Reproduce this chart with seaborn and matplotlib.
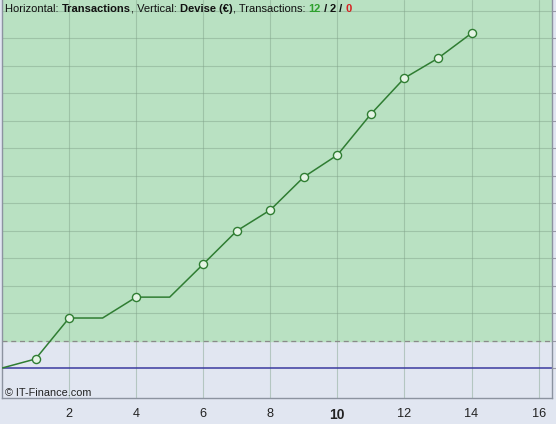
import matplotlib
matplotlib.use('Agg')
import matplotlib.pyplot as plt
import seaborn as sns
import pandas as pd

# equity curve (one point per transaction)
trades = list(range(15))
equity = [0, 33, 182, 182, 258, 258, 378, 499, 575, 695, 775, 924, 1055, 1127, 1218]
x_major = [2, 4, 6, 8, 10, 12, 14, 16]
x_minor = [1, 3, 5, 7, 9, 11, 13, 15]
grid_levels = [200, 300, 400, 500, 600, 700, 800, 900, 1000, 1100, 1200, 1300]
zone_level = 100
n_win, n_even, n_loss = 12, 2, 0

df = pd.DataFrame({'trade': trades, 'equity': equity})
df['step'] = df['equity'].diff().fillna(0)
marks = df[df['step'] != 0]

sns.set_style('white')
plt.rcParams['font.family'] = ['Liberation Sans', 'DejaVu Sans']

fig = plt.figure(figsize=(5.56, 4.24), dpi=100)
fig.patch.set_facecolor('#e1e6f1')
ax = fig.add_axes([2 / 556, 26 / 424, 550 / 556, 398 / 424])
ax.set_facecolor('#e1e6f1')

ax.set_xlim(0, 16.4)
ax.set_ylim(-109, 1339)

# profit zone
ax.axhspan(zone_level, 1339, color='#b9e1c2', zorder=0)

# grid
for g in grid_levels:
    ax.axhline(g, color='#7f9f88', lw=0.8, alpha=0.45, zorder=1)
for xv in x_major:
    ax.axvline(xv, color='#7f9f88', lw=0.8, alpha=0.45, zorder=1)
ax.axhline(zone_level, color='#8a8a8a', lw=0.9, ls=(0, (4, 3)), zorder=2)
ax.axhline(0, color='#3a3aa0', lw=1.1, zorder=2)

# equity line + markers
sns.lineplot(data=df, x='trade', y='equity', color='#2f7d32', lw=1.1, ax=ax, zorder=3)
sns.scatterplot(data=marks, x='trade', y='equity', ax=ax, s=34, color='#e4f4e4',
                edgecolor='#2f7d32', linewidth=1.0, zorder=4)

ax.set_xlabel('')
ax.set_ylabel('')

ax.set_xticks(x_major)
ax.set_xticklabels([str(v) for v in x_major], fontsize=9.2, color='#222222')
ax.set_xticks(x_minor, minor=True)
ax.tick_params(axis='x', which='both', direction='out', length=3, color='#9a9aa8', pad=4)
for lab in ax.get_xticklabels():
    if lab.get_text() == '10':
        lab.set_fontweight('bold')
        lab.set_fontsize(10)

ax.yaxis.tick_right()
ax.set_yticks(grid_levels + [zone_level, 0])
ax.set_yticklabels([])
ax.tick_params(axis='y', direction='out', length=4, color='#9a9aa8')

for side in ['left', 'bottom', 'right']:
    ax.spines[side].set_visible(True)
    ax.spines[side].set_color('#8c93a0')
    ax.spines[side].set_linewidth(1.0)
ax.spines['top'].set_visible(False)

# header text with mixed styles
fs = 8.0
parts = [
    ('Horizontal: ', 'normal', '#111111'),
    ('Transactions', 'bold', '#111111'),
    (', Vertical: ', 'normal', '#111111'),
    ('Devise (€)', 'bold', '#111111'),
    (', Transactions: ', 'normal', '#111111'),
    (str(n_win), 'bold', '#2ea02e'),
    (' / ', 'bold', '#111111'),
    (str(n_even), 'bold', '#111111'),
    (' / ', 'bold', '#111111'),
    (str(n_loss), 'bold', '#d62020'),
]
prev = None
for txt, wt, col in parts:
    if prev is None:
        prev = ax.text(0.006, 0.99, txt, transform=ax.transAxes, ha='left', va='top',
                       fontsize=fs, fontweight=wt, color=col)
    else:
        prev = ax.annotate(txt, xy=(1, 0), xycoords=prev, ha='left', va='bottom',
                           fontsize=fs, fontweight=wt, color=col)

ax.text(0.006, 0.0, '© IT-Finance.com', transform=ax.transAxes, ha='left', va='bottom',
        fontsize=7.8, color='#222222')

fig.savefig('out.png', dpi=100, facecolor=fig.get_facecolor())
